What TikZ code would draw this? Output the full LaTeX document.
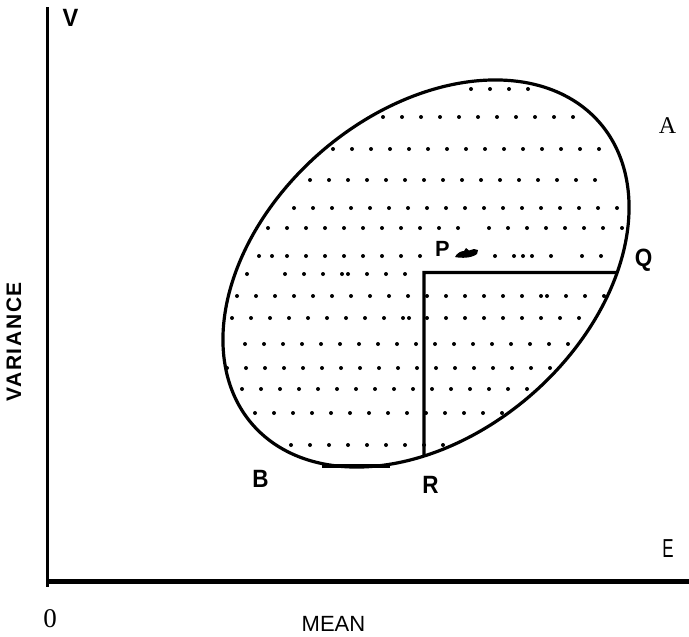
\documentclass[tikz,border=0pt]{standalone}
\usepackage{fontspec}
\newfontfamily\lsans{Liberation Sans}
\newfontfamily\lserif{Liberation Serif}
\usetikzlibrary{intersections}
\begin{document}
\begin{tikzpicture}[x=1pt,y=-1pt,
  lbl/.style={anchor=base, inner sep=0pt, xscale=0.9, font=\lsans\bfseries\fontsize{25}{25}\selectfont},
  slbl/.style={anchor=base, inner sep=0pt, font=\lserif\fontsize{24}{24}\selectfont},
  curve/.style={line width=3.2pt, line join=round},
  axisline/.style={line width=3pt}]
\useasboundingbox (0,0) rectangle (689,637);

% axes
\coordinate (Ytop) at (47.3,7);
\coordinate (Ybot) at (47.3,587);
\coordinate (Xbeg) at (48,581.5);
\coordinate (Xend) at (689,581.5);
\draw[axisline] (Ytop) -- (Ybot);
\draw[line width=5pt] (Xbeg) -- (Xend);

% dots
\foreach \yy/\xs/\n in {89/471/4, 117/383/11, 149/333/15, 180/310/16, 208/294/18,
  228/268/10, 228/458/1, 228/489/8,
  256/259/1, 256/272/1, 256/287/8, 256/495/2, 256/523/1, 256/532/2, 256/582/2,
  274/247/1, 274/285/4, 274/348/4,
  296/237/11, 296/446/6, 296/547/4,
  318/232/10, 318/409/1, 318/427/9,
  344/245/18, 368/227/18, 389/242/16, 413/255/14, 445/291/9}
  {\foreach \i in {1,...,\n} {\fill ({\xs+19*(\i-1)},\yy) circle[radius=2pt];}}

% ellipse
\draw[curve, name path=ell] plot[smooth cycle, domain=0:358, samples=180]
  ({426+230*cos(\x)*cos(41)-160.6*sin(\x)*sin(41)},
   {273.5-(230*cos(\x)*sin(41)+160.6*sin(\x)*cos(41))});
\draw[line width=4.2pt] (322,466) -- (390,466);

% P, Q, R
\coordinate (P) at (424,272.5);
\path[name path=hline] (P) -- (700,272.5);
\path[name path=vline] (P) -- (424,620);
\path[name intersections={of=ell and hline, by=Q}];
\path[name intersections={of=ell and vline, by=R}];
\draw[curve, line join=miter] (Q) -- (P) -- (R);

% smudge next to P
\fill (455,257) .. controls (457,253) and (461,251) .. (464,251)
  -- (466,248) -- (469,250.5) -- (474,249) -- (478,250) -- (477,254)
  .. controls (472,258) and (462,258.5) .. (455,257) -- cycle;

% labels
\node[lbl, xscale=1.05, font=\lsans\bfseries\fontsize{25}{25}\selectfont] (lV) at (70.5,27) {V};
\node[lbl, xscale=1.1, font=\lsans\bfseries\fontsize{22}{22}\selectfont] (lP) at (442.5,256) {P};
\node[lbl] (lQ) at (643.5,266) {Q};
\node[lbl] (lR) at (430.5,493) {R};
\node[lbl] (lB) at (260.5,487) {B};
\node[slbl] (lA) at (667.5,133) {A};
\node[anchor=base, inner sep=0pt, font=\lsans\fontsize{26}{26}\selectfont, xscale=0.65] (lE) at (668,557) {E};
\node[slbl, font=\lserif\fontsize{27}{27}\selectfont] (l0) at (50,627) {0};
\node[anchor=base, inner sep=0pt, font=\lsans\fontsize{22}{22}\selectfont] (lmean) at (333.5,631) {MEAN};
\node[anchor=base, inner sep=0pt, rotate=90, font=\lsans\bfseries\fontsize{21}{21}\selectfont\addfontfeature{LetterSpace=8}] (lvar) at (21,342) {VARIANCE};
\end{tikzpicture}
\end{document}
